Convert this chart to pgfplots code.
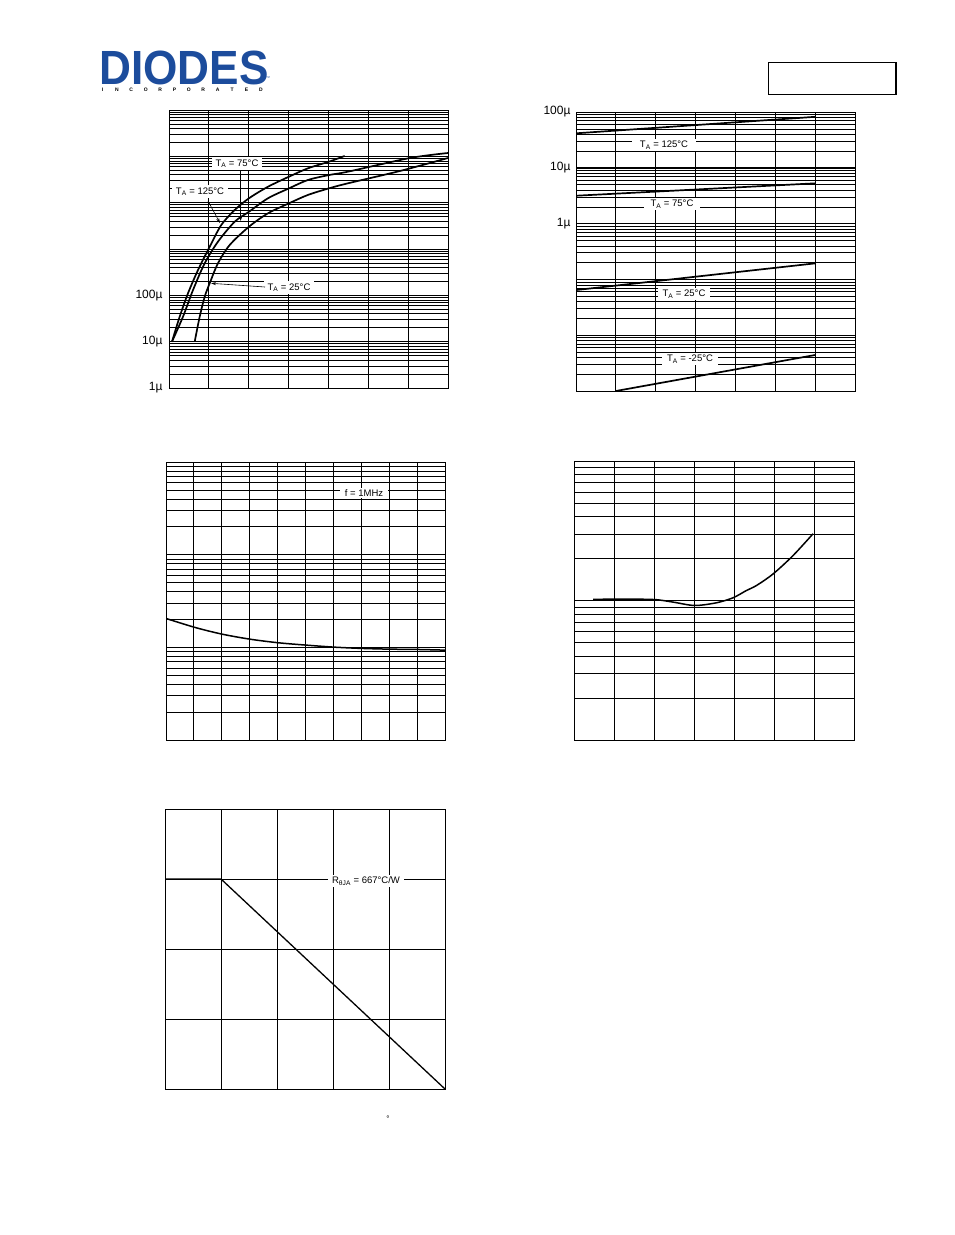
\documentclass[border=0pt]{standalone}
\usepackage{fontspec}
\setmainfont{Liberation Sans}
\usepackage{pgfplots}
\pgfplotsset{compat=1.18}
\usetikzlibrary{arrows.meta}
\definecolor{diodesblue}{RGB}{28,76,156}
\pgfplotsset{
  ds/.style={
    scale only axis, anchor=north west,
    axis line style={black, line width=0.9pt},
    grid=both,
    major grid style={black, line width=0.9pt},
    minor grid style={black, line width=0.6pt},
    major tick length=0pt, minor tick length=0pt,
    xticklabels={},
    yticklabel style={font=\fontsize{12}{13}\selectfont, text=black, xshift=-2pt},
  },
  crv/.style={black, line width=1.7pt, no marks},
}
\newcommand{\lab}{\fontsize{9.5}{11}\selectfont}
\tikzset{pg/.style={x=1pt,y=-1pt}, arr/.style={line width=0.6pt, -{Stealth[length=5pt,width=3pt]}}}
\begin{document}
\begin{tikzpicture}
\path[use as bounding box] (0pt,0pt) rectangle (954pt,-1235pt);

% ---------------- logo and header box
\begin{scope}[pg]
\node[anchor=base west, inner sep=0, text=diodesblue, font=\bfseries\fontsize{48}{48}\selectfont, xscale=0.92] at (99,84) {DIODES};
\node[anchor=base west, inner sep=0, text=diodesblue, font=\fontsize{4}{4}\selectfont] at (266,79) {™};
\foreach \l [count=\i from 0] in {I,N,C,O,R,P,O,R,A,T,E,D}
  \node[inner sep=0, font=\bfseries\fontsize{5}{5}\selectfont] at ({102.5+\i*14.4},90) {\l};
\draw[line width=0.8pt] (768,62) rectangle (896,94);
\draw[line width=1.8pt] (895.4,62) -- (895.4,94);
\end{scope}

% ---------------- plot 1: forward characteristics
\begin{axis}[ds, at={(169pt,-110pt)}, width=279pt, height=278pt,
  xmin=0, xmax=0.7, xtick={0,0.1,0.2,0.3,0.4,0.5,0.6,0.7},
  ymode=log, ymin=1e-6, ymax=1,
  ytick={1e-6,1e-5,1e-4,1e-3,1e-2,1e-1,1},
  yticklabels={1µ,10µ,100µ,,,,},
  yticklabel style={xshift=-1pt}]
% T_A = 125 C
\addplot[crv, smooth] coordinates {(0.0075,1.0e-5) (0.0268,3.46e-5) (0.0477,1.11e-4) (0.0728,3.52e-4) (0.1021,1.12e-3) (0.1312,3.30e-3) (0.1648,6.95e-3) (0.2007,1.245e-2) (0.2484,2.21e-2) (0.3011,3.64e-2) (0.3487,5.52e-2) (0.4014,7.67e-2) (0.4408,0.102)};
% T_A = 75 C
\addplot[crv, smooth] coordinates {(0.0075,1.0e-5) (0.0351,3.46e-5) (0.0602,1.30e-4) (0.0896,4.92e-4) (0.1229,1.44e-3) (0.1648,3.88e-3) (0.2007,6.38e-3) (0.2484,1.245e-2) (0.3011,2.04e-2) (0.3487,3.09e-2) (0.4014,3.95e-2) (0.4491,4.67e-2) (0.6046,9.20e-2) (0.7,0.118)};
% T_A = 25 C
\addplot[crv, smooth] coordinates {(0.0645,1.0e-5) (0.0770,3.46e-5) (0.0896,9.35e-5) (0.1021,1.82e-4) (0.1229,4.92e-4) (0.1523,1.22e-3) (0.2007,3.03e-3) (0.2484,5.90e-3) (0.3011,9.70e-3) (0.3487,1.47e-2) (0.4014,2.04e-2) (0.4491,2.62e-2) (0.5795,4.83e-2) (0.7,9.20e-2)};
\end{axis}
\begin{scope}[pg]
\node[fill=white, inner xsep=4pt, inner ysep=2pt, font=\lab] at (237,163.5) {T\textsubscript{A} = 75°C};
\node[fill=white, inner xsep=4pt, inner ysep=2pt, font=\lab] at (200,191.5) {T\textsubscript{A} = 125°C};
\node[fill=white, inner xsep=4pt, inner ysep=2pt, font=\lab] at (289,287.5) {T\textsubscript{A} = 25°C};
\draw[arr] (208,201) -- (220,223);
\draw[arr] (240.7,171) -- (240.7,221);
\draw[arr] (265,287) -- (211,283.3);
\end{scope}

% ---------------- plot 2: reverse characteristics
\begin{axis}[ds, at={(576pt,-112pt)}, width=279pt, height=279pt,
  xmin=0, xmax=35, xtick={0,5,10,15,20,25,30,35},
  ymode=log, ymin=1e-9, ymax=1e-4,
  ytick={1e-9,1e-8,1e-7,1e-6,1e-5,1e-4},
  yticklabels={,,,1µ,10µ,100µ}]
\addplot[crv] coordinates {(0,4.15e-5) (30,8.2e-5)};
\addplot[crv] coordinates {(0,3.16e-6) (30,5.27e-6)};
\addplot[crv] coordinates {(0,6.45e-8) (30,1.94e-7)};
\addplot[crv] coordinates {(5,1e-9) (30,4.42e-9)};
\end{axis}
\begin{scope}[pg]
\node[fill=white, inner xsep=8pt, inner ysep=2pt, font=\lab] at (664,145) {T\textsubscript{A} = 125°C};
\node[fill=white, inner xsep=7pt, inner ysep=2pt, font=\lab] at (672,204) {T\textsubscript{A} = 75°C};
\node[fill=white, inner xsep=5pt, inner ysep=2pt, font=\lab] at (684,294) {T\textsubscript{A} = 25°C};
\node[fill=white, inner xsep=5pt, inner ysep=2pt, font=\lab] at (690,359) {T\textsubscript{A} = -25°C};
\end{scope}

% ---------------- plot 3: capacitance
\begin{axis}[ds, at={(166pt,-462pt)}, width=279pt, height=278pt,
  xmin=0, xmax=10, xtick={0,1,2,3,4,5,6,7,8,9,10},
  ymode=log, ymin=1, ymax=1000, ytick={1,10,100,1000}, yticklabels={,,,}]
\addplot[crv, line width=1.5pt, smooth] coordinates {(0,20.5) (1.04,16.4) (2.0,13.9) (3.01,12.25) (4.03,11.2) (5.04,10.56) (6.03,10.05) (7.04,9.73) (8.03,9.56) (9.0,9.49) (10,9.33)};
\end{axis}
\begin{scope}[pg]
\node[fill=white, inner xsep=5pt, inner ysep=2pt, font=\lab] at (364,493) {f = 1MHz};
\end{scope}

% ---------------- plot 4
\begin{axis}[ds, at={(574pt,-461pt)}, width=280pt, height=279pt,
  xmin=-50, xmax=125, xtick={-50,-25,0,25,50,75,100,125},
  ymode=log, ymin=0.1, ymax=10, ytick={0.1,1,10}, yticklabels={,,}]
\addplot[crv, line width=1.5pt, smooth] coordinates {(-38.1,1.017) (-25.6,1.023) (-0.6,1.017) (11.9,0.974) (25.4,0.921) (39,0.963) (49.4,1.046) (57.8,1.18) (64,1.28) (74.4,1.55) (86.9,2.10) (99.4,3.01)};
\end{axis}

% ---------------- plot 5: power derating
\begin{axis}[ds, at={(165pt,-809pt)}, width=280pt, height=280pt,
  xmin=0, xmax=125, xtick={0,25,50,75,100,125},
  ymin=0, ymax=200, ytick={0,50,100,150,200}, yticklabels={,,,,}]
\addplot[black, line width=1.3pt, no marks] coordinates {(0,150) (25,150) (125,0)};
\end{axis}
\begin{scope}[pg]
\node[fill=white, inner xsep=4pt, inner ysep=2pt, font=\lab] at (366,881) {R\textsubscript{θJA} = 667°C/W};
\node[font=\fontsize{8}{9}\selectfont, inner sep=0] at (388,1119) {°};
\end{scope}
\end{tikzpicture}
\end{document}
